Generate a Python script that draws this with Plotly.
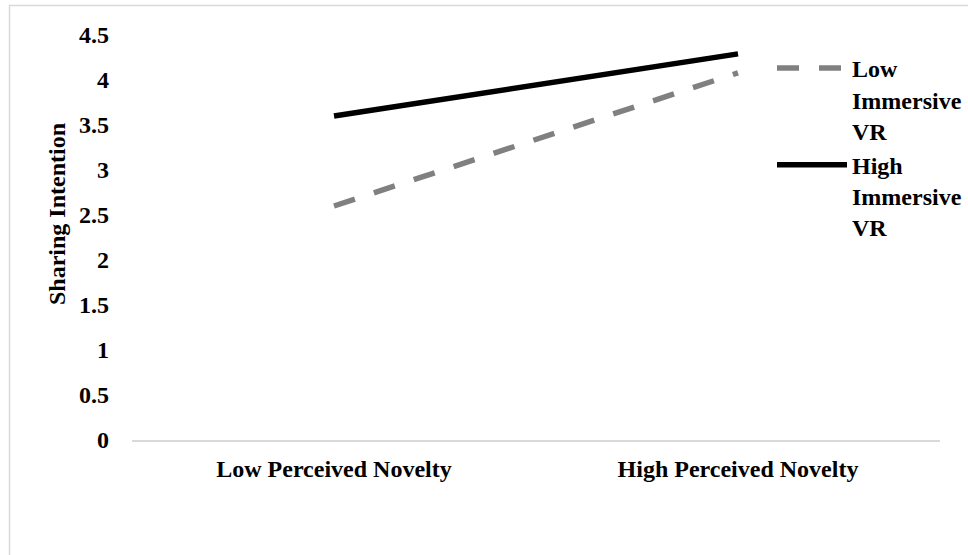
import plotly.graph_objects as go

# Interaction data: sharing intention by perceived novelty and VR immersion
novelty_levels = ["Low Perceived Novelty", "High Perceived Novelty"]
low_immersive = [2.60, 4.08]
high_immersive = [3.60, 4.29]
series_names = ["Low<br>Immersive<br>VR", "High<br>Immersive<br>VR"]
y_ticks = [0, 0.5, 1, 1.5, 2, 2.5, 3, 3.5, 4, 4.5]
y_tick_text = ["0", "0.5", "1", "1.5", "2", "2.5", "3", "3.5", "4", "4.5"]

W, H = 968, 555
L, R, T, B = 132, 28, 35, 115
pw, ph = W - L - R, H - T - B

def px_x(x):
    return (x - L) / pw

def px_y(y):
    return (H - B - y) / ph

FONT = "Liberation Serif, Times New Roman, serif"
FS = 24

def bold_font():
    return dict(family=FONT, size=FS, color="black", weight="bold")

fig = go.Figure()
fig.add_trace(go.Scatter(
    x=novelty_levels, y=low_immersive, name=series_names[0], mode="lines",
    line=dict(color="#808080", width=5.5, dash="22px,20px"),
))
fig.add_trace(go.Scatter(
    x=novelty_levels, y=high_immersive, name=series_names[1], mode="lines",
    line=dict(color="#000000", width=5.5),
))

fig.update_layout(
    width=W, height=H,
    margin=dict(l=L, r=R, t=T, b=B, autoexpand=False),
    paper_bgcolor="white", plot_bgcolor="white",
    font=bold_font(),
    xaxis=dict(
        type="category", range=[-0.5, 1.5],
        showgrid=False, zeroline=False,
        showline=True, linecolor="#d9d9d9", linewidth=2,
        ticks="", ticklabelstandoff=6,
        tickfont=bold_font(),
    ),
    yaxis=dict(
        range=[0, 4.5], tickvals=y_ticks, ticktext=y_tick_text,
        showgrid=False, zeroline=False, showline=False,
        ticks="", ticklabelstandoff=22,
        tickfont=bold_font(),
    ),
    showlegend=True,
    legend=dict(
        x=px_x(772), y=px_y(46), xanchor="left", yanchor="top",
        bgcolor="rgba(0,0,0,0)", valign="top",
        itemwidth=70, tracegroupgap=16,
        font=bold_font(),
    ),
    annotations=[dict(
        text="Sharing Intention", textangle=-90,
        xref="paper", yref="paper", x=px_x(57), y=px_y(214),
        xanchor="center", yanchor="middle", showarrow=False,
        font=bold_font(),
    )],
    shapes=[dict(
        type="rect", xref="paper", yref="paper",
        x0=px_x(9.5), x1=px_x(990), y0=px_y(5.5), y1=px_y(580),
        line=dict(color="#d9d9d9", width=1.5), fillcolor="rgba(0,0,0,0)",
        layer="below",
    )],
)

fig.write_html("out.html")
